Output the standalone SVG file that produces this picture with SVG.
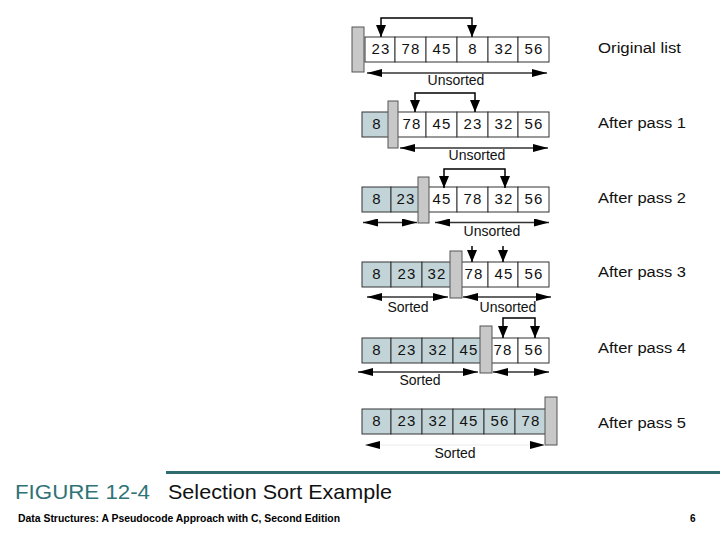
<svg xmlns="http://www.w3.org/2000/svg" width="720" height="540" viewBox="0 0 720 540">
<defs>
<marker id="ha" viewBox="0 0 15 8" refX="15" refY="4" markerWidth="15" markerHeight="8" markerUnits="userSpaceOnUse" orient="auto-start-reverse"><path d="M0 0 L15 4 L0 8 z" fill="#000"/></marker>
<marker id="va" viewBox="0 0 12 10" refX="12" refY="5" markerWidth="12" markerHeight="10" markerUnits="userSpaceOnUse" orient="auto-start-reverse"><path d="M0 0 L12 5 L0 10 z" fill="#000"/></marker>
<style>
.c{fill:#fff;stroke:#333;stroke-width:1}
.s{fill:#c3d4d8;stroke:#333;stroke-width:1}
.bar{fill:#c8c8c8;stroke:#555;stroke-width:1}
.n{font-family:"Liberation Sans",Arial,sans-serif;font-size:15px;letter-spacing:1.2px;text-anchor:middle;fill:#111}
.l{font-family:"Liberation Sans",Arial,sans-serif;font-size:14px;text-anchor:middle;fill:#111}
.r{font-family:"Liberation Sans",Arial,sans-serif;font-size:14px;fill:#111}
.ha{stroke:#333;stroke-width:1.5;fill:none;marker-start:url(#ha);marker-end:url(#ha)}
.va{stroke:#000;stroke-width:1.5;fill:none;marker-start:url(#va);marker-end:url(#va)}
.vs{stroke:#000;stroke-width:1.5;fill:none;marker-end:url(#va)}
</style>
</defs>
<rect width="720" height="540" fill="#fff"/>

<g id="row0">
<rect class="c" x="365" y="37" width="30" height="25"/><rect class="c" x="395" y="37" width="31" height="25"/><rect class="c" x="426" y="37" width="31" height="25"/><rect class="c" x="457" y="37" width="31" height="25"/><rect class="c" x="488" y="37" width="30" height="25"/><rect class="c" x="518" y="37" width="31" height="25"/>
<rect class="bar" x="352" y="27" width="12" height="45"/>
<text class="n" y="54"><tspan x="381">23</tspan><tspan x="411">78</tspan><tspan x="442">45</tspan><tspan x="473">8</tspan><tspan x="504">32</tspan><tspan x="534">56</tspan></text>
<text class="r" x="598" y="53" textLength="83" lengthAdjust="spacingAndGlyphs">Original list</text>
</g>

<g id="row1">
<rect class="s" x="362" y="112" width="30" height="25"/><rect class="c" x="392" y="112" width="34" height="25"/><rect class="c" x="426" y="112" width="31" height="25"/><rect class="c" x="457" y="112" width="31" height="25"/><rect class="c" x="488" y="112" width="30" height="25"/><rect class="c" x="518" y="112" width="31" height="25"/>
<rect class="bar" x="388" y="101" width="10" height="47"/>
<text class="n" y="129"><tspan x="377">8</tspan><tspan x="412">78</tspan><tspan x="442">45</tspan><tspan x="473">23</tspan><tspan x="504">32</tspan><tspan x="534">56</tspan></text>
<text class="r" x="598" y="128" textLength="88" lengthAdjust="spacingAndGlyphs">After pass 1</text>
</g>

<g id="row2">
<rect class="s" x="362" y="187" width="29" height="25"/><rect class="s" x="391" y="187" width="33" height="25"/><rect class="c" x="424" y="187" width="33" height="25"/><rect class="c" x="457" y="187" width="31" height="25"/><rect class="c" x="488" y="187" width="30" height="25"/><rect class="c" x="518" y="187" width="31" height="25"/>
<rect class="bar" x="418" y="177" width="11" height="46"/>
<text class="n" y="204"><tspan x="377">8</tspan><tspan x="406">23</tspan><tspan x="442">45</tspan><tspan x="473">78</tspan><tspan x="504">32</tspan><tspan x="534">56</tspan></text>
<text class="r" x="598" y="203" textLength="88" lengthAdjust="spacingAndGlyphs">After pass 2</text>
</g>

<g id="row3">
<rect class="s" x="362" y="262" width="29" height="25"/><rect class="s" x="391" y="262" width="31" height="25"/><rect class="s" x="422" y="262" width="34" height="25"/><rect class="c" x="456" y="262" width="32" height="25"/><rect class="c" x="488" y="262" width="30" height="25"/><rect class="c" x="518" y="262" width="31" height="25"/>
<rect class="bar" x="450" y="251" width="12" height="47"/>
<text class="n" y="279"><tspan x="377">8</tspan><tspan x="407">23</tspan><tspan x="437">32</tspan><tspan x="474">78</tspan><tspan x="504">45</tspan><tspan x="534">56</tspan></text>
<text class="r" x="598" y="277" textLength="88" lengthAdjust="spacingAndGlyphs">After pass 3</text>
</g>

<g id="row4">
<rect class="s" x="362" y="338" width="29" height="25"/><rect class="s" x="391" y="338" width="31" height="25"/><rect class="s" x="422" y="338" width="31" height="25"/><rect class="s" x="453" y="338" width="33" height="25"/><rect class="c" x="486" y="338" width="32" height="25"/><rect class="c" x="518" y="338" width="31" height="25"/>
<rect class="bar" x="480" y="326" width="12" height="47"/>
<text class="n" y="355"><tspan x="377">8</tspan><tspan x="407">23</tspan><tspan x="438">32</tspan><tspan x="469">45</tspan><tspan x="503">78</tspan><tspan x="534">56</tspan></text>
<text class="r" x="598" y="353" textLength="88" lengthAdjust="spacingAndGlyphs">After pass 4</text>
</g>

<g id="row5">
<rect class="s" x="362" y="409" width="29" height="25"/><rect class="s" x="391" y="409" width="31" height="25"/><rect class="s" x="422" y="409" width="31" height="25"/><rect class="s" x="453" y="409" width="31" height="25"/><rect class="s" x="484" y="409" width="31" height="25"/><rect class="s" x="515" y="409" width="31" height="25"/>
<rect class="bar" x="545" y="397" width="12" height="48"/>
<text class="n" y="426"><tspan x="377">8</tspan><tspan x="407">23</tspan><tspan x="438">32</tspan><tspan x="469">45</tspan><tspan x="500">56</tspan><tspan x="531">78</tspan></text>
<text class="r" x="598" y="428" textLength="88" lengthAdjust="spacingAndGlyphs">After pass 5</text>
</g>

<g id="connectors">
<path class="va" d="M381 37 V18 H472 V37"/>
<path class="va" d="M415 112 V93 H475 V112"/>
<path class="va" d="M444 188 V169 H505 V188"/>
<path class="vs" d="M472 246 V262"/>
<path class="vs" d="M503 246 V262"/>
<path class="va" d="M503 338 V318 H535 V338"/>

<line class="ha" x1="367" y1="73" x2="547" y2="73"/>
<line class="ha" x1="400" y1="148" x2="548" y2="148"/>
<line class="ha" x1="363" y1="222.5" x2="417" y2="222.5"/>
<line class="ha" x1="435" y1="222.5" x2="549" y2="222.5"/>
<line class="ha" x1="367" y1="297" x2="448" y2="297"/>
<line class="ha" x1="463" y1="297" x2="551" y2="297"/>
<line class="ha" x1="358" y1="372" x2="478" y2="372"/>
<line class="ha" x1="493" y1="372" x2="549" y2="372"/>
<line class="ha" x1="365" y1="445" x2="545" y2="445" style="stroke:#f2f2f2"/>
</g>

<g id="labels">
<text class="l" x="456" y="85">Unsorted</text>
<text class="l" x="477" y="160">Unsorted</text>
<text class="l" x="492" y="236">Unsorted</text>
<text class="l" x="408" y="312">Sorted</text>
<text class="l" x="508" y="312">Unsorted</text>
<text class="l" x="420" y="385">Sorted</text>
<text class="l" x="455" y="458">Sorted</text>
</g>

<g id="caption">
<line x1="166" y1="472.5" x2="720" y2="472.5" stroke="#2f6b6f" stroke-width="3"/>
<text x="15" y="499" font-family="'Liberation Sans',Arial,sans-serif" font-size="21" fill="#2f7377" textLength="135" lengthAdjust="spacingAndGlyphs">FIGURE 12-4</text>
<text x="168" y="499" font-family="'Liberation Sans',Arial,sans-serif" font-size="21" fill="#111" textLength="224" lengthAdjust="spacingAndGlyphs">Selection Sort Example</text>
<text x="18" y="522" font-family="'Liberation Sans',Arial,sans-serif" font-size="10" font-weight="bold" fill="#000" textLength="322" lengthAdjust="spacingAndGlyphs">Data Structures: A Pseudocode Approach with C, Second Edition</text>
<text x="690" y="522" font-family="'Liberation Sans',Arial,sans-serif" font-size="10" font-weight="bold" fill="#000">6</text>
</g>
</svg>
